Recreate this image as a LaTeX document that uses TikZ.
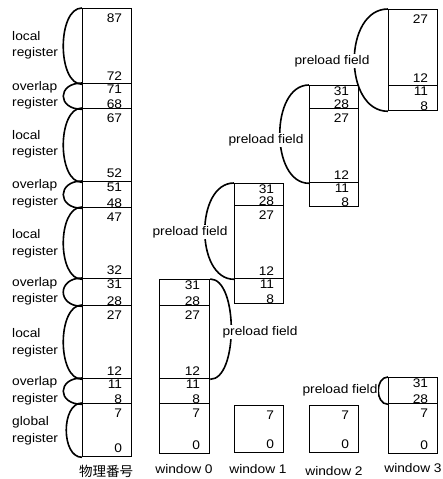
\documentclass[tikz,border=0pt]{standalone}
\usepackage{fontspec}
\setmainfont{Liberation Sans}[FakeStretch=1.1]
\newfontfamily\jpfont{Noto Sans CJK JP}

\tikzset{
  reg/.style={draw, line width=1.3pt, minimum width=49pt, inner sep=0pt, anchor=north west},
  num/.style={inner sep=0pt, font=\fontsize{12.5}{12.5}\selectfont},
  tn/.style={label={[num, anchor=north east, xshift=-10pt, yshift=-6pt]north east:#1}},
  bn/.style={label={[num, anchor=south east, xshift=-10pt, yshift=4pt]south east:#1}},
  otn/.style={label={[num, anchor=north east, xshift=-10pt, yshift=-2pt]north east:#1}},
  obn/.style={label={[num, anchor=south east, xshift=-10pt, yshift=0.5pt]south east:#1}},
  brace/.style={line width=1.6pt},
  lbl/.style={align=left, anchor=west, inner sep=0pt, font=\fontsize{12.5}{16.5}\selectfont},
  pf/.style={fill=white, inner sep=1pt, font=\fontsize{12.5}{15}\selectfont},
  wlbl/.style={font=\fontsize{12.5}{15}\selectfont},
  jp/.style={font=\jpfont\fontsize{13.5}{15}\selectfont},
}

\begin{document}
\begin{tikzpicture}[x=1pt, y=-1pt]
\useasboundingbox (0,0) rectangle (442,479);

\node[reg, minimum height=75pt, tn=87, bn=72] (p1) at (82,8) {};
\node[reg, minimum height=25pt, otn=71, obn=68] (p2) at (82,83) {};
\node[reg, minimum height=73pt, tn=67, bn=52] (p3) at (82,108) {};
\node[reg, minimum height=26pt, otn=51, obn=48] (p4) at (82,181) {};
\node[reg, minimum height=71pt, tn=47, bn=32] (p5) at (82,207) {};
\node[reg, minimum height=27pt, otn=31, obn=28] (p6) at (82,278) {};
\node[reg, minimum height=73pt, tn=27, bn=12] (p7) at (82,305) {};
\node[reg, minimum height=25pt, otn=11, obn=8] (p8) at (82,378) {};
\node[reg, minimum height=53pt, tn=7, bn=0] (p9) at (82,403) {};

\draw[brace] (p1.north west) .. controls +(-25,0) and +(-25,0) .. (p1.south west);
\draw[brace] (p2.north west) .. controls +(-25,0) and +(-25,0) .. (p2.south west);
\draw[brace] (p3.north west) .. controls +(-25,0) and +(-25,0) .. (p3.south west);
\draw[brace] (p4.north west) .. controls +(-25,0) and +(-25,0) .. (p4.south west);
\draw[brace] (p5.north west) .. controls +(-25,0) and +(-25,0) .. (p5.south west);
\draw[brace] (p6.north west) .. controls +(-25,0) and +(-25,0) .. (p6.south west);
\draw[brace] (p7.north west) .. controls +(-25,0) and +(-25,0) .. (p7.south west);
\draw[brace] (p8.north west) .. controls +(-25,0) and +(-25,0) .. (p8.south west);
\draw[brace] (p9.north west) .. controls +(-21,0) and +(-21,0) .. (p9.south west);

\node[lbl] (lr1) at (12,45.5) {local\\register};
\node[lbl] (or1) at (12,95.5) {overlap\\register};
\node[lbl] (lr2) at (12,144.5) {local\\register};
\node[lbl] (or2) at (12,194) {overlap\\register};
\node[lbl] (lr3) at (12,244) {local\\register};
\node[lbl] (or3) at (12,291.5) {overlap\\register};
\node[lbl] (lr4) at (12,343) {local\\register};
\node[lbl] (or4) at (12,391) {overlap\\register};
\node[lbl] (gr) at (12,431) {global\\register};

\node[reg, minimum width=50pt, minimum height=26pt, otn=31, obn=28] (w0a) at (159,279) {};
\node[reg, minimum width=50pt, minimum height=73pt, tn=27, bn=12] (w0b) at (159,305) {};
\node[reg, minimum width=50pt, minimum height=25pt, otn=11, obn=8] (w0c) at (159,378) {};
\node[reg, minimum width=50pt, minimum height=50pt, tn=7, bn=0] (w0d) at (159,403) {};

\node[reg, minimum height=22pt, otn=31, obn=28] (w1a) at (234,183) {};
\node[reg, minimum height=73pt, tn=27, bn=12] (w1b) at (234,205) {};
\node[reg, minimum height=25pt, otn=11, obn=8] (w1c) at (234,278) {};
\node[reg, minimum height=47pt, tn=7, bn=0] (w1d) at (234,405) {};

\node[reg, minimum height=23pt, otn=31, obn=28] (w2a) at (309,85) {};
\node[reg, minimum height=74pt, tn=27, bn=12] (w2b) at (309,108) {};
\node[reg, minimum height=24pt, otn=11, obn=8] (w2c) at (309,182) {};
\node[reg, minimum height=47pt, tn=7, bn=0] (w2d) at (309,405) {};

\node[reg, minimum height=76pt, tn=27, bn=12] (w3a) at (388,9) {};
\node[reg, minimum height=25pt, otn=11, obn=8] (w3b) at (388,85) {};
\node[reg, minimum height=26pt, otn=31, obn=28] (w3c) at (388,377) {};
\node[reg, minimum height=50pt, tn=7, bn=0] (w3d) at (388,403) {};

\draw[brace] (w0a.north east) .. controls +(28,0) and +(28,0) .. (w0b.south east);
\draw[brace] (w1a.north west) .. controls +(-39,0) and +(-39,0) .. (w1b.south west);
\draw[brace] (w2a.north west) .. controls +(-39,0) and +(-39,0) .. (w2b.south west);
\draw[brace] (w3a.north west) .. controls +(-45,0) and +(-45,0) .. (w3b.south west);
\draw[brace] (w3c.north west) .. controls +(-13,0) and +(-13,0) .. (w3c.south west);

\node[pf] (pf0) at (260,332) {preload field};
\node[pf] (pf1) at (190,232) {preload field};
\node[pf] (pf2) at (266,140) {preload field};
\node[pf] (pf3) at (332,61) {preload field};
\node[pf] (pf4) at (340,390) {preload field};

\node[jp] (pname) at (106,471) {物理番号};
\node[wlbl] (w0name) at (184,469) {window 0};
\node[wlbl] (w1name) at (258,469) {window 1};
\node[wlbl] (w2name) at (334,471) {window 2};
\node[wlbl] (w3name) at (413,468) {window 3};
\end{tikzpicture}
\end{document}
